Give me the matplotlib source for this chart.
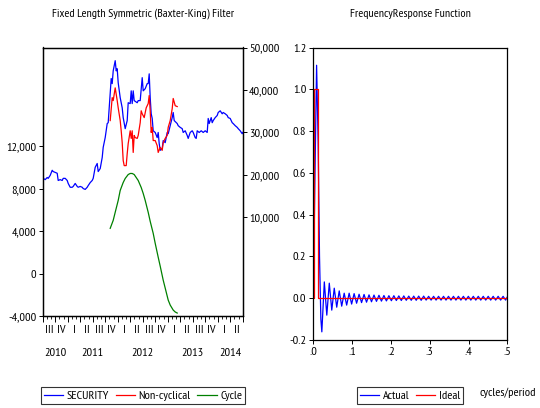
import numpy as np
import matplotlib
matplotlib.use("Agg")
import matplotlib.pyplot as plt
from matplotlib.lines import Line2D
from matplotlib.ticker import FuncFormatter

plt.rcParams['font.family'] = ['PT Sans Narrow', 'Liberation Sans', 'DejaVu Sans']

# ---------------- data: Baxter-King filter on SECURITY ----------------
security_t = [2010.51, 2010.55, 2010.59, 2010.61, 2010.65, 2010.69, 2010.71, 2010.75, 2010.79, 2010.81,
              2010.85, 2010.89, 2010.91, 2010.95, 2010.99, 2011.01, 2011.05, 2011.09, 2011.11, 2011.15,
              2011.19, 2011.21, 2011.25, 2011.29, 2011.31, 2011.35, 2011.39, 2011.41, 2011.45, 2011.49,
              2011.51, 2011.55, 2011.59, 2011.61, 2011.65, 2011.69, 2011.71, 2011.75, 2011.79, 2011.81,
              2011.85, 2011.87, 2011.89, 2011.91, 2011.95, 2011.97, 2011.99, 2012.01, 2012.05, 2012.09,
              2012.11, 2012.15, 2012.19, 2012.21, 2012.25, 2012.27, 2012.29, 2012.31, 2012.33, 2012.39,
              2012.41, 2012.45, 2012.49, 2012.51, 2012.55, 2012.59, 2012.61, 2012.63, 2012.65, 2012.67,
              2012.69, 2012.71, 2012.75, 2012.79, 2012.81, 2012.83, 2012.85, 2012.89, 2012.91, 2012.95,
              2012.99, 2013.01, 2013.05, 2013.09, 2013.11, 2013.13, 2013.19, 2013.21, 2013.25, 2013.29,
              2013.31, 2013.35, 2013.39, 2013.41, 2013.45, 2013.49, 2013.51, 2013.55, 2013.57, 2013.59,
              2013.63, 2013.67, 2013.71, 2013.75, 2013.79, 2013.81, 2013.83, 2013.87, 2013.89, 2013.91,
              2013.95, 2013.99, 2014.01, 2014.05, 2014.09, 2014.11, 2014.15, 2014.19, 2014.21, 2014.25,
              2014.29, 2014.31, 2014.35, 2014.39, 2014.41, 2014.45, 2014.49, 2014.50]
security = [19200, 18900, 19400, 19200, 19900, 21100, 20800, 20600, 20400, 18700,
            18900, 18700, 19200, 19200, 18700, 18000, 17100, 17100, 17300, 18000,
            17300, 17100, 17300, 17100, 16800, 16600, 17100, 17500, 18200, 18700,
            19200, 21800, 22700, 20800, 21500, 24100, 26500, 28800, 32100, 32300,
            39100, 42700, 41500, 44500, 46900, 44500, 45000, 41700, 38200, 35800,
            33500, 30900, 32800, 37000, 36800, 39800, 36800, 39800, 37500, 37000,
            37500, 37500, 42900, 39800, 40300, 41500, 41500, 43800, 38200, 34400,
            33300, 30400, 30000, 28800, 30000, 27400, 25800, 26200, 28100, 27600,
            30000, 29700, 31600, 33500, 34700, 32800, 32100, 31600, 31200, 30900,
            30000, 30400, 29300, 28600, 30000, 30400, 30000, 28800, 28600, 30400,
            30000, 30400, 30000, 30400, 30000, 33300, 32100, 33500, 32300, 32800,
            33500, 34000, 34700, 35100, 34400, 34700, 34400, 34000, 33500, 33300,
            32300, 32100, 31600, 31200, 30900, 30400, 29700, 30000]

noncyc_t = [2011.85, 2011.89, 2011.91, 2011.95, 2011.99, 2012.01, 2012.05, 2012.07, 2012.09, 2012.11,
            2012.13, 2012.17, 2012.19, 2012.21, 2012.25, 2012.27, 2012.29, 2012.31, 2012.33, 2012.35,
            2012.39, 2012.41, 2012.45, 2012.47, 2012.49, 2012.53, 2012.57, 2012.61, 2012.63, 2012.65,
            2012.67, 2012.69, 2012.71, 2012.75, 2012.79, 2012.81, 2012.85, 2012.89, 2012.91, 2012.95,
            2012.99, 2013.01, 2013.05, 2013.09, 2013.11, 2013.15, 2013.19]
noncyc = [32800, 38200, 37500, 40500, 37500, 35800, 32800, 30400, 27600, 23400,
          22200, 22200, 25000, 27400, 30400, 28600, 30400, 25300, 29300, 28800,
          28600, 29300, 32300, 35100, 34400, 33500, 35800, 36800, 38700, 35100,
          30000, 31200, 28100, 28100, 26900, 25300, 26500, 25800, 27600, 28600,
          29300, 31200, 32800, 35600, 38000, 36300, 36100]

cycle_t = [2011.85, 2011.91, 2011.95, 2012.01, 2012.05, 2012.11, 2012.15, 2012.21, 2012.25, 2012.29,
           2012.33, 2012.37, 2012.41, 2012.47, 2012.51, 2012.55, 2012.61, 2012.65, 2012.71, 2012.75,
           2012.81, 2012.85, 2012.91, 2012.95, 2013.01, 2013.05, 2013.11, 2013.15, 2013.19]
cycle = [4260, 5010, 5770, 6890, 7830, 8580, 8960, 9330, 9430, 9430,
         9330, 9050, 8770, 8110, 7550, 6890, 5770, 4920, 3790, 2850,
         1540, 700, -620, -1370, -2500, -2970, -3440, -3620, -3720]

quarter_labels = ['III', 'IV', 'I', 'II', 'III', 'IV', 'I', 'II',
                  'III', 'IV', 'I', 'II', 'III', 'IV', 'I', 'II']
year_labels = ['2010', '2011', '2012', '2013', '2014']
year_label_pos = [2010.75, 2011.5, 2012.5, 2013.5, 2014.25]

# ---------------- data: frequency response ----------------
ideal_f = [0.0, 0.0024, 0.0024, 0.0128, 0.0128, 0.5]
ideal_v = [0.0, 0.0, 1.0, 1.0, 0.0, 0.0]

actual_f = [0.0, 0.004, 0.0085, 0.0125, 0.016, 0.0195,
            0.0220, 0.0284, 0.0348, 0.0412, 0.0476, 0.0540, 0.0604, 0.0668, 0.0732, 0.0796,
            0.0860, 0.0924, 0.0988, 0.1052, 0.1116, 0.1180, 0.1244, 0.1308, 0.1372, 0.1436,
            0.1500, 0.1564, 0.1628, 0.1692, 0.1756, 0.1820, 0.1884, 0.1948, 0.2012, 0.2076,
            0.2140, 0.2204, 0.2268, 0.2332, 0.2396, 0.2460, 0.2524, 0.2588, 0.2652, 0.2716,
            0.2780, 0.2844, 0.2908, 0.2972, 0.3036, 0.3100, 0.3164, 0.3228, 0.3292, 0.3356,
            0.3420, 0.3484, 0.3548, 0.3612, 0.3676, 0.3740, 0.3804, 0.3868, 0.3932, 0.3996,
            0.4060, 0.4124, 0.4188, 0.4252, 0.4316, 0.4380, 0.4444, 0.4508, 0.4572, 0.4636,
            0.4700, 0.4764, 0.4828, 0.4892, 0.4956, 0.5000]
actual_v = [0.0, 0.55, 1.115, 0.75, 0.2, -0.1,
            -0.161, 0.078, -0.081, 0.072, -0.057, 0.048, -0.043, 0.035, -0.038, 0.024,
            -0.033, 0.024, -0.028, 0.022, -0.024, 0.019, -0.021, 0.018, -0.019, 0.016,
            -0.017, 0.015, -0.015, 0.014, -0.014, 0.013, -0.013, 0.012, -0.012, 0.012,
            -0.011, 0.011, -0.011, 0.011, -0.010, 0.010, -0.010, 0.010, -0.010, 0.010,
            -0.010, 0.010, -0.009, 0.009, -0.009, 0.009, -0.009, 0.009, -0.009, 0.009,
            -0.009, 0.009, -0.009, 0.009, -0.009, 0.009, -0.009, 0.009, -0.009, 0.009,
            -0.009, 0.009, -0.009, 0.009, -0.009, 0.009, -0.009, 0.009, -0.009, 0.009,
            -0.009, 0.009, -0.009, 0.009, -0.009, 0.006]

BLUE, RED, GREEN = '#0000ff', '#ff0000', '#008000'
LW = 0.9
FS = 8.8
TFS = 8.6

fig = plt.figure(figsize=(5.4, 4.08), dpi=100)
W, H = 540.0, 408.0

# ---------------- left panel ----------------
ax1 = fig.add_axes([42.7 / W, 1 - 316 / H, 200 / W, (316 - 47.5) / H])
ax2 = ax1.twinx()

ax1.plot(cycle_t, cycle, color=GREEN, lw=LW)
ax2.plot(security_t, security, color=BLUE, lw=LW)
ax2.plot(noncyc_t, noncyc, color=RED, lw=LW)

ax1.set_xlim(2010.5, 2014.5)
ax1.set_ylim(-4000, 21300)
ax2.set_ylim(-13200, 50000)
ax1.set_yticks([-4000, 0, 4000, 8000, 12000])
ax2.set_yticks([10000, 20000, 30000, 40000, 50000])
comma = FuncFormatter(lambda v, p: f"{int(v):,}")
ax1.yaxis.set_major_formatter(comma)
ax2.yaxis.set_major_formatter(comma)

quarter_edges = 2010.5 + np.arange(17) * 0.25
month_edges = 2010.5 + np.arange(49) / 12.0
ax1.set_xticks(quarter_edges)
ax1.set_xticks(month_edges, minor=True)
ax1.set_xticklabels([])
ax1.tick_params(axis='x', which='major', length=4, width=0.7, direction='out')
ax1.tick_params(axis='x', which='minor', length=2.5, width=0.6, direction='out')
ax1.tick_params(axis='y', length=3, width=0.7, direction='out', labelsize=FS, pad=1.5)
ax2.tick_params(axis='y', length=3, width=0.7, direction='out', labelsize=FS, pad=1.5)

for i, lab in enumerate(quarter_labels):
    ax1.text(2010.5 + 0.25 * i + 0.125, -0.035, lab, transform=ax1.get_xaxis_transform(),
             ha='center', va='top', fontsize=FS)
for lab, pos in zip(year_labels, year_label_pos):
    ax1.text(pos, -0.12, lab, transform=ax1.get_xaxis_transform(),
             ha='center', va='top', fontsize=FS)

for ax in (ax1, ax2):
    for s in ax.spines.values():
        s.set_linewidth(0.9)

fig.text(143.5 / W, 1 - 14 / H, 'Fixed Length Symmetric (Baxter-King) Filter',
         ha='center', va='center', fontsize=TFS)

handles_l = [Line2D([], [], color=BLUE, lw=LW), Line2D([], [], color=RED, lw=LW),
             Line2D([], [], color=GREEN, lw=LW)]
leg1 = fig.legend(handles_l, ['SECURITY', 'Non-cyclical', 'Cycle'], loc='center',
                  bbox_to_anchor=(143 / W, 1 - 395.5 / H), ncol=3, fontsize=FS,
                  frameon=True, fancybox=False, edgecolor='black', handlelength=1.6,
                  handletextpad=0.3, columnspacing=0.5, borderpad=0.25)
leg1.get_frame().set_linewidth(0.8)

# ---------------- right panel ----------------
ax3 = fig.add_axes([313.3 / W, 1 - 340 / H, 194 / W, (340 - 47.5) / H])
ax3.plot(actual_f, actual_v, color=BLUE, lw=LW)
ax3.plot(ideal_f, ideal_v, color=RED, lw=LW)
ax3.set_xlim(0, 0.5)
ax3.set_ylim(-0.2, 1.2)
ax3.set_xticks([0, 0.1, 0.2, 0.3, 0.4, 0.5])
ax3.set_xticklabels(['.0', '.1', '.2', '.3', '.4', '.5'])
ax3.set_yticks([-0.2, 0.0, 0.2, 0.4, 0.6, 0.8, 1.0, 1.2])
ax3.set_yticklabels(['-0.2', '0.0', '0.2', '0.4', '0.6', '0.8', '1.0', '1.2'])
ax3.tick_params(length=3, width=0.7, direction='out', labelsize=FS, pad=2)
for s in ax3.spines.values():
    s.set_linewidth(0.9)

fig.text(410 / W, 1 - 14 / H, 'FrequencyResponse Function',
         ha='center', va='center', fontsize=TFS)

handles_r = [Line2D([], [], color=BLUE, lw=LW), Line2D([], [], color=RED, lw=LW)]
leg2 = fig.legend(handles_r, ['Actual', 'Ideal'], loc='center',
                  bbox_to_anchor=(410 / W, 1 - 395.5 / H), ncol=2, fontsize=FS,
                  frameon=True, fancybox=False, edgecolor='black', handlelength=1.6,
                  handletextpad=0.3, columnspacing=0.5, borderpad=0.25)
leg2.get_frame().set_linewidth(0.8)

fig.text(508 / W, 1 - 393 / H, 'cycles/period', ha='center', va='center', fontsize=FS)

fig.savefig('out.png', dpi=100)
